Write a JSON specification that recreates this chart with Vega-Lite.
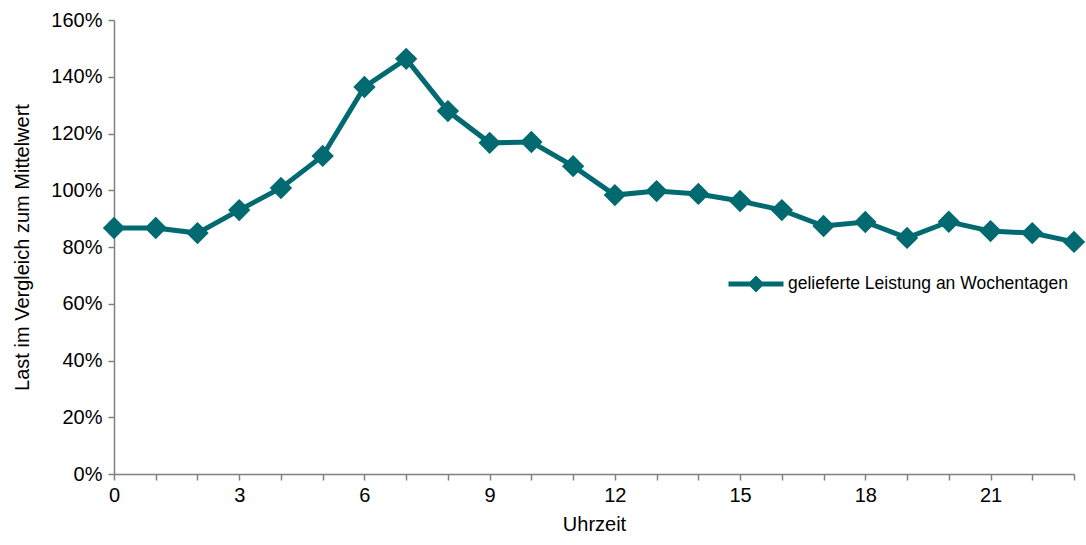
{
  "$schema": "https://vega.github.io/schema/vega-lite/v6.json",
  "autosize": "none",
  "width": 960,
  "height": 454,
  "padding": {"left": 114, "top": 20, "right": 12, "bottom": 71},
  "background": "white",
  "config": {
    "view": {"stroke": null},
    "font": "Liberation Sans",
    "axis": {"grid": false, "domainColor": "#808080", "tickColor": "#808080", "domainWidth": 1.5, "tickWidth": 1.5, "tickSize": 6, "labelColor": "#000000", "titleColor": "#000000", "labelFont": "Liberation Sans", "titleFont": "Liberation Sans", "titleFontWeight": "normal", "labelFontSize": 20, "titleFontSize": 20}
  },
  "data": {
    "values": [
      {"h": 0, "v": 0.867, "s": "gelieferte Leistung an Wochentagen"},
      {"h": 1, "v": 0.867, "s": "gelieferte Leistung an Wochentagen"},
      {"h": 2, "v": 0.849, "s": "gelieferte Leistung an Wochentagen"},
      {"h": 3, "v": 0.930, "s": "gelieferte Leistung an Wochentagen"},
      {"h": 4, "v": 1.008, "s": "gelieferte Leistung an Wochentagen"},
      {"h": 5, "v": 1.121, "s": "gelieferte Leistung an Wochentagen"},
      {"h": 6, "v": 1.364, "s": "gelieferte Leistung an Wochentagen"},
      {"h": 7, "v": 1.463, "s": "gelieferte Leistung an Wochentagen"},
      {"h": 8, "v": 1.279, "s": "gelieferte Leistung an Wochentagen"},
      {"h": 9, "v": 1.167, "s": "gelieferte Leistung an Wochentagen"},
      {"h": 10, "v": 1.170, "s": "gelieferte Leistung an Wochentagen"},
      {"h": 11, "v": 1.085, "s": "gelieferte Leistung an Wochentagen"},
      {"h": 12, "v": 0.983, "s": "gelieferte Leistung an Wochentagen"},
      {"h": 13, "v": 0.997, "s": "gelieferte Leistung an Wochentagen"},
      {"h": 14, "v": 0.987, "s": "gelieferte Leistung an Wochentagen"},
      {"h": 15, "v": 0.962, "s": "gelieferte Leistung an Wochentagen"},
      {"h": 16, "v": 0.930, "s": "gelieferte Leistung an Wochentagen"},
      {"h": 17, "v": 0.874, "s": "gelieferte Leistung an Wochentagen"},
      {"h": 18, "v": 0.888, "s": "gelieferte Leistung an Wochentagen"},
      {"h": 19, "v": 0.832, "s": "gelieferte Leistung an Wochentagen"},
      {"h": 20, "v": 0.889, "s": "gelieferte Leistung an Wochentagen"},
      {"h": 21, "v": 0.856, "s": "gelieferte Leistung an Wochentagen"},
      {"h": 22, "v": 0.849, "s": "gelieferte Leistung an Wochentagen"},
      {"h": 23, "v": 0.818, "s": "gelieferte Leistung an Wochentagen"}
    ]
  },
  "encoding": {
    "x": {"field": "h", "type": "quantitative", "title": "Uhrzeit",
      "scale": {"domain": [0, 23], "nice": false, "zero": false},
      "axis": {"values": [0,1,2,3,4,5,6,7,8,9,10,11,12,13,14,15,16,17,18,19,20,21,22,23],
        "labelExpr": "datum.value % 3 == 0 ? datum.label : ''", "labelPadding": 5, "titlePadding": 9, "labelFlush": false}},
    "y": {"field": "v", "type": "quantitative", "title": "Last im Vergleich zum Mittelwert",
      "scale": {"domain": [0, 1.6], "nice": false},
      "axis": {"values": [0, 0.2, 0.4, 0.6, 0.8, 1.0, 1.2, 1.4, 1.6], "format": ".0%", "labelPadding": 6, "titlePadding": 18}},
    "color": {"field": "s", "type": "nominal", "scale": {"range": ["#006A70"]},
      "legend": {"title": null, "orient": "none", "legendX": 612, "legendY": 234,
        "symbolType": "M -1 0 L 1 0 M 0 -0.18 L 0.18 0 L 0 0.18 L -0.18 0 Z",
        "symbolSize": 3025, "symbolStrokeWidth": 5, "symbolFillColor": "#006A70", "symbolStrokeColor": "#006A70",
        "labelFontSize": 17.5, "labelFont": "Liberation Sans", "labelColor": "#000000", "labelOffset": 2, "labelLimit": 400}}
  },
  "layer": [
    {"mark": {"type": "line", "strokeWidth": 5}},
    {"mark": {"type": "point", "shape": "diamond", "filled": true, "size": 500, "opacity": 1}}
  ]
}
